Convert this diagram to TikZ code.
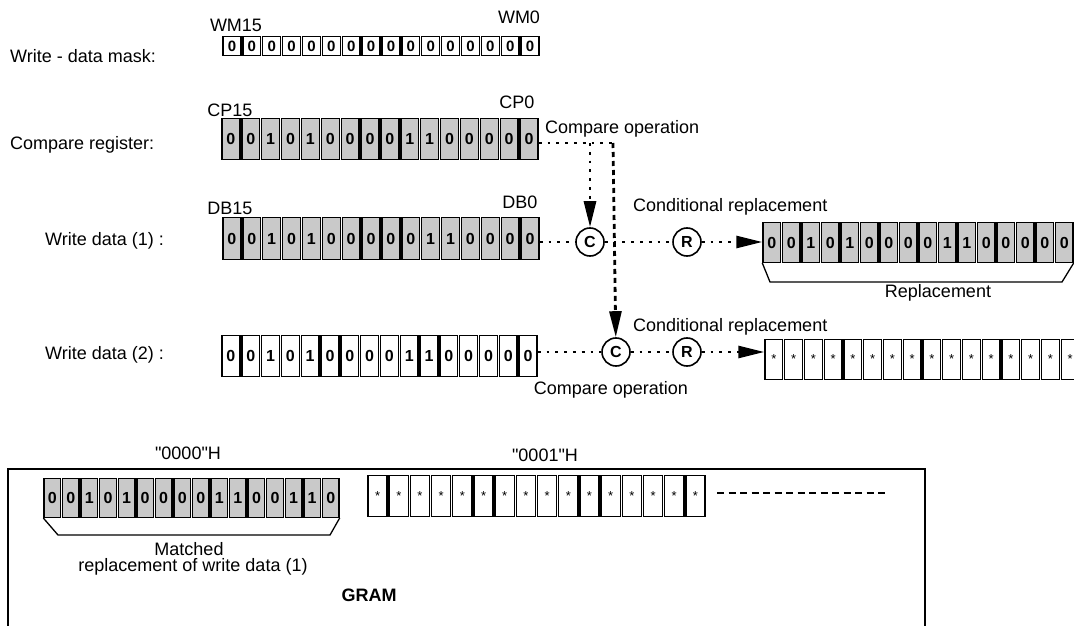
\documentclass[tikz,border=0pt]{standalone}
\usepackage{fontspec}
\setmainfont{Liberation Sans}[Ligatures=TeXOff]
\usetikzlibrary{arrows.meta}
\newcommand{\regrow}[7]{%
  \pgfmathsetmacro{\regW}{(#3-#2)/16}%
  \pgfmathsetmacro{\regH}{#5-#4}%
  \pgfmathsetmacro{\regY}{(#4+#5)/2}%
  \foreach \d [count=\i] in {#7} {%
    \node[cell,#6,minimum width=\regW pt-2pt,minimum height=\regH pt-1.4pt] (#1-\i) at ({#2+(\i-0.5)*\regW},\regY) {\d};
  }%
}
\begin{document}
\begin{tikzpicture}[x=1pt,y=-1pt,
  lbl/.style={font=\fontsize{18}{21}\selectfont, inner sep=0},
  cell/.style={draw, line width=1.4pt, inner sep=0, font=\bfseries\fontsize{15}{15}\selectfont},
  tall/.style={font=\bfseries\fontsize{16}{16}\selectfont},
  shade/.style={fill=gray!42, tall},
  starcell/.style={font=\fontsize{13}{13}\selectfont},
  op/.style={circle, draw, line width=1.6pt, inner sep=0, minimum size=28pt, font=\bfseries\fontsize{16}{16}\selectfont},
  dotline/.style={line width=2.8pt, dash pattern=on 2.8pt off 6pt},
  dashline/.style={line width=2.8pt, dash pattern=on 5pt off 4pt},
  bigarrow/.style={-{Triangle[length=26pt,width=12pt]}},
  brace/.style={line width=1.3pt},
]
\fill[white] (0,0) rectangle (1074,626);
\useasboundingbox (0,0) rectangle (1074,626);

% left labels
\node[lbl, anchor=west] (lmask) at (10,56) {Write - data mask:};
\node[lbl, anchor=west] (lcmp) at (10,145) {Compare register:};
\node[lbl, anchor=west] (lwd1) at (45,241) {Write data (1) :};
\node[lbl, anchor=west] (lwd2) at (45,355) {Write data (2) :};

% registers
\regrow{mask}{222}{540}{36}{56}{}{0,0,0,0,0,0,0,0,0,0,0,0,0,0,0,0}
\regrow{cmp}{221}{539}{118}{160}{shade}{0,0,1,0,1,0,0,0,0,1,1,0,0,0,0,0}
\regrow{wd1}{222}{540}{217}{260}{shade}{0,0,1,0,1,0,0,0,0,0,1,1,0,0,0,0}
\regrow{wd2}{221}{538}{335}{377}{tall}{0,0,1,0,1,0,0,0,0,1,1,0,0,0,0,0}
\regrow{dst1}{762}{1074}{222}{263}{shade}{0,0,1,0,1,0,0,0,0,1,1,0,0,0,0,0}
\regrow{dst2}{764}{1080}{339}{380}{starcell}{*,*,*,*,*,*,*,*,*,*,*,*,*,*,*,*}
\regrow{gr1}{43}{340}{478}{518}{shade}{0,0,1,0,1,0,0,0,0,1,1,0,0,1,1,0}
\regrow{gr2}{367}{706}{475}{517}{starcell}{*,*,*,*,*,*,*,*,*,*,*,*,*,*,*,*}

% bit labels
\node[lbl] (wm15) at (236,25) {WM15};
\node[lbl] (wm0) at (519,17) {WM0};
\node[lbl] (cp15) at (230,110) {CP15};
\node[lbl] (cp0) at (517,102) {CP0};
\node[lbl] (db15) at (230,208) {DB15};
\node[lbl] (db0) at (520,202) {DB0};

% operators
\node[op] (C1) at (590,242) {C};
\node[op] (R1) at (687,242) {R};
\node[op] (C2) at (616,352) {C};
\node[op] (R2) at (687,352) {R};

\coordinate (J1) at (590,143);
\coordinate (J2) at (613,143);

% connectors
\draw[dotline] (cmp-16.east |- J2) -- (J2);
\draw[dotline, bigarrow] (J1) -- (C1);
\draw[dashline, bigarrow] (J2) -- (C2);
\draw[dotline] (wd1-16.east |- C1) -- (C1);
\draw[dotline] (C1) -- (R1);
\draw[dotline, bigarrow] (R1) -- (R1 -| dst1-1.west);
\draw[dotline] (wd2-16.east |- C2) -- (C2);
\draw[dotline] (C2) -- (R2);
\draw[dotline, bigarrow] (R2) -- (R2 -| dst2-1.west);

% operation labels
\node[lbl, anchor=west] (cmpop1) at (545,129) {Compare operation};
\node[lbl, anchor=west] (cond1) at (633,207) {Conditional replacement};
\node[lbl, anchor=west] (cond2) at (633,327) {Conditional replacement};
\node[lbl] (cmpop2) at (611,390) {Compare operation};

% replacement brace
\draw[brace] (dst1-1.south west) -- (770,282) -- (1062,282) -- (dst1-16.south east);
\node[lbl] (repl) at (938,293) {Replacement};

% GRAM
\draw[line width=1.8pt] (8,626) -- (8,469) -- (925,469) -- (925,626);
\node[lbl] (addr0) at (188,453) {"0000"H};
\node[lbl] (addr1) at (545,455) {"0001"H};
\draw[brace] (gr1-1.south west) -- (58,535) -- (330,535) -- (gr1-16.south east);
\node[lbl] (match1) at (189,549) {Matched};
\node[lbl] (match2) at (193,567) {replacement of write data (1)};
\node[lbl, font=\bfseries\fontsize{18}{21}\selectfont] (gram) at (369,595) {GRAM};
\coordinate (dsA) at (717,493);
\coordinate (dsB) at (887,493);
\draw[line width=1.5pt, dash pattern=on 7pt off 4.5pt] (dsA) -- (dsB);
\end{tikzpicture}
\end{document}
